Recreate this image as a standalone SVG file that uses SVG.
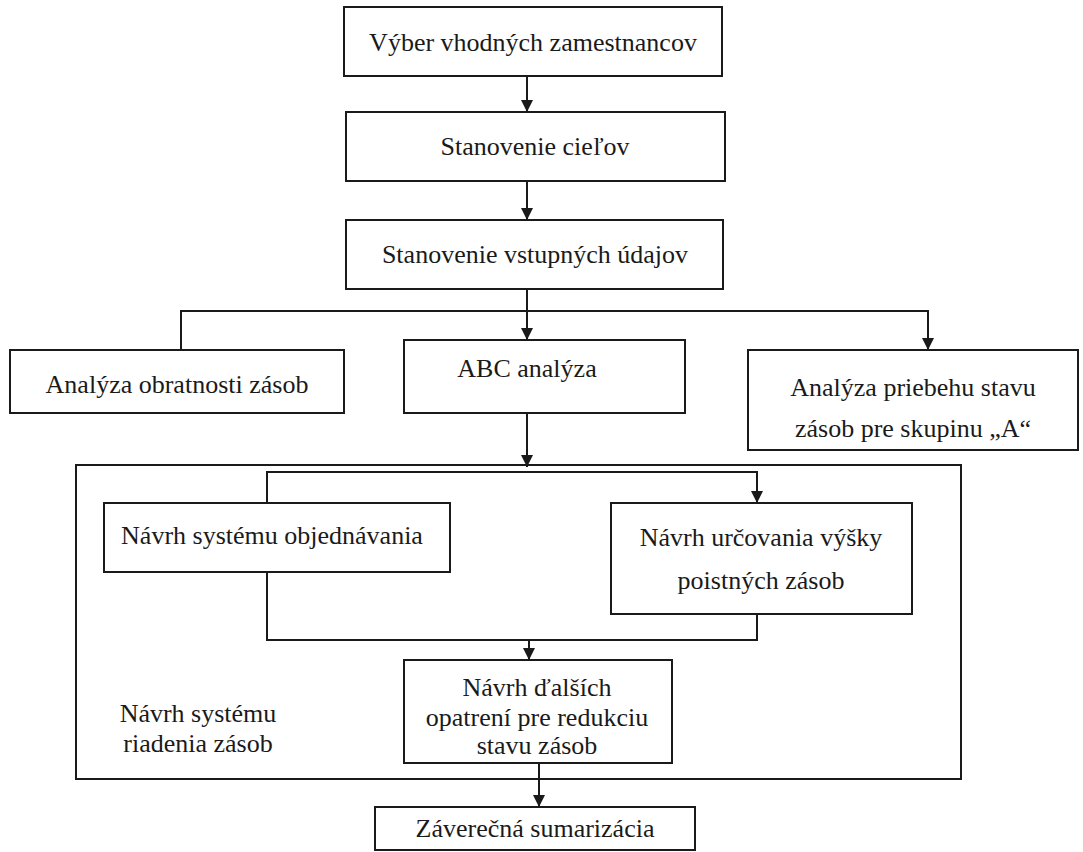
<svg xmlns="http://www.w3.org/2000/svg" width="1083" height="852" viewBox="0 0 1083 852">
<style>
.box{fill:#fff;stroke:#1a1a1a;stroke-width:2}
.t{font-family:"Liberation Serif","Times New Roman",serif;font-size:26px;fill:#1a1a1a;text-anchor:middle}
.c{fill:none;stroke:#1a1a1a;stroke-width:2}
</style>
<defs>
<marker id="ah" markerUnits="userSpaceOnUse" markerWidth="12" markerHeight="12" viewBox="0 0 12 12" refX="12" refY="6" orient="auto">
<path d="M0,0 L12,6 L0,12 Z" fill="#1a1a1a"/>
</marker>
</defs>
<rect width="1083" height="852" fill="#fff"/>
<g id="frame">
<rect class="box" x="76" y="465" width="885" height="314"/>
<text class="t" x="198" y="722">Návrh systému</text>
<text class="t" x="198" y="752">riadenia zásob</text>
</g>
<g id="connectors">
<line class="c" x1="527" y1="76" x2="527" y2="112" marker-end="url(#ah)"/>
<line class="c" x1="527" y1="181" x2="527" y2="220" marker-end="url(#ah)"/>
<line class="c" x1="527" y1="289" x2="527" y2="340" marker-end="url(#ah)"/>
<polyline class="c" points="181,350 181,311 928,311 928,350" marker-start="url(#ah)" marker-end="url(#ah)"/>
<line class="c" x1="527" y1="413" x2="527" y2="467" marker-end="url(#ah)"/>
<polyline class="c" points="267,503 267,472 757,472 757,503" marker-start="url(#ah)" marker-end="url(#ah)"/>
<polyline class="c" points="267,572 267,640 757,640 757,614"/>
<line class="c" x1="529" y1="640" x2="529" y2="660" marker-end="url(#ah)"/>
<line class="c" x1="539" y1="763" x2="539" y2="807" marker-end="url(#ah)"/>
</g>
<g id="n1"><rect class="box" x="344" y="7" width="378" height="69"/><text class="t" x="533" y="51">Výber vhodných zamestnancov</text></g>
<g id="n2"><rect class="box" x="346" y="112" width="379" height="69"/><text class="t" x="535" y="155">Stanovenie cieľov</text></g>
<g id="n3"><rect class="box" x="346" y="220" width="377" height="69"/><text class="t" x="535" y="263">Stanovenie vstupných údajov</text></g>
<g id="n4"><rect class="box" x="10" y="350" width="334" height="63"/><text class="t" x="177" y="393">Analýza obratnosti zásob</text></g>
<g id="n5"><rect class="box" x="404" y="340" width="281" height="73"/><text class="t" x="527" y="377">ABC analýza</text></g>
<g id="n6"><rect class="box" x="748" y="350" width="330" height="100"/><text class="t" x="913" y="396">Analýza priebehu stavu</text><text class="t" x="913" y="437">zásob pre skupinu „A“</text></g>
<g id="n7"><rect class="box" x="104" y="503" width="346" height="69"/><text class="t" x="272" y="544">Návrh systému objednávania</text></g>
<g id="n8"><rect class="box" x="611" y="503" width="301" height="111"/><text class="t" x="761" y="546">Návrh určovania výšky</text><text class="t" x="761" y="589">poistných zásob</text></g>
<g id="n9"><rect class="box" x="404" y="660" width="268" height="103"/><text class="t" x="537" y="696">Návrh ďalších</text><text class="t" x="537" y="726">opatrení pre redukciu</text><text class="t" x="537" y="754">stavu zásob</text></g>
<g id="n10"><rect class="box" x="375" y="807" width="320" height="43"/><text class="t" x="535" y="837">Záverečná sumarizácia</text></g>
</svg>
